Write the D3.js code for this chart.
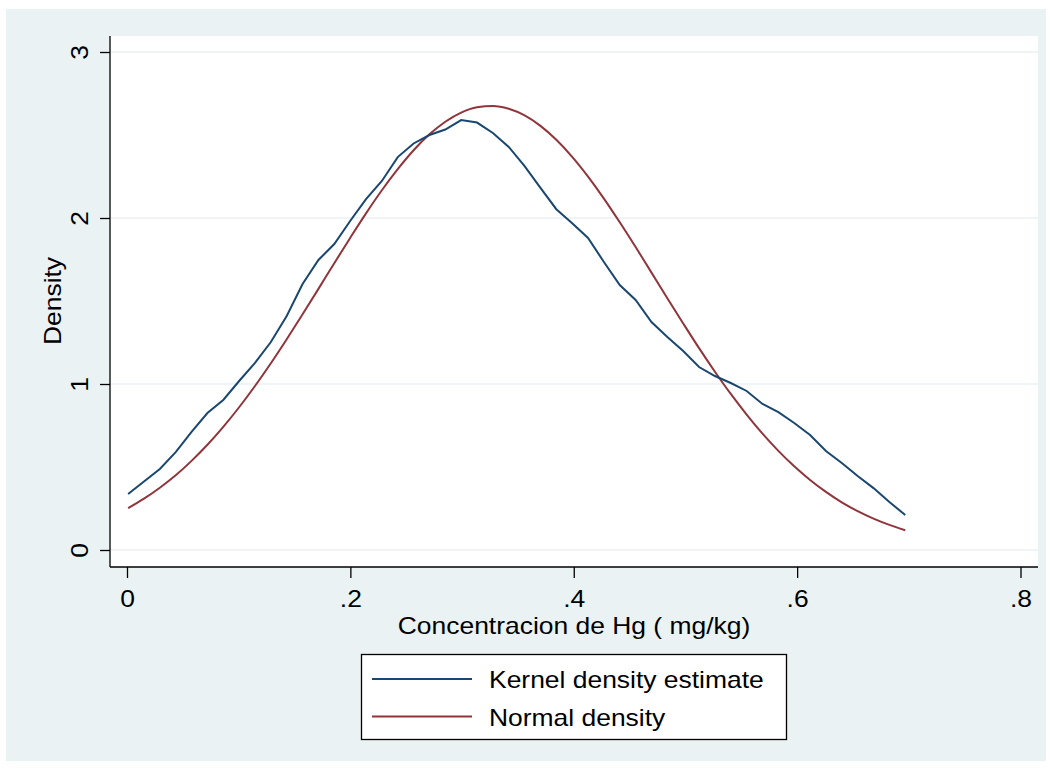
<!DOCTYPE html>
<html>
<head>
<meta charset="utf-8">
<script src="https://cdn.jsdelivr.net/npm/d3@7"></script>
<style>
    body { margin: 0; background: #fff; }
    text { font-family: "Liberation Sans", Arial, sans-serif; fill: #000; }
</style>
</head>
<body>
<div id="chart"></div>
<script>

// --------- DATA ---------

// evaluation grid (50 points, as kdensity uses)
let hgValues = [0.001, 0.0152, 0.0294, 0.0436, 0.0578, 0.072, 0.0862, 0.1004, 0.1146, 0.1288,
    0.143, 0.1572, 0.1714, 0.1856, 0.1998, 0.214, 0.2282, 0.2424, 0.2566, 0.2708,
    0.285, 0.2992, 0.3134, 0.3276, 0.3418, 0.356, 0.3702, 0.3844, 0.3986, 0.4128,
    0.427, 0.4412, 0.4554, 0.4696, 0.4838, 0.498, 0.5122, 0.5264, 0.5406, 0.5548,
    0.569, 0.5832, 0.5974, 0.6116, 0.6258, 0.64, 0.6542, 0.6684, 0.6826, 0.6968];

let kernelDensity = [0.337, 0.413, 0.488, 0.590, 0.711, 0.825, 0.904, 1.018, 1.127, 1.253,
    1.410, 1.602, 1.747, 1.843, 1.982, 2.114, 2.223, 2.367, 2.449, 2.500,
    2.533, 2.590, 2.575, 2.512, 2.428, 2.313, 2.181, 2.053, 1.969, 1.880,
    1.735, 1.596, 1.506, 1.373, 1.283, 1.199, 1.102, 1.048, 1.006, 0.958,
    0.880, 0.831, 0.765, 0.693, 0.596, 0.524, 0.446, 0.373, 0.289, 0.211];

let normalDensity = [0.252, 0.309, 0.375, 0.450, 0.537, 0.634, 0.742, 0.860, 0.988, 1.125,
    1.270, 1.420, 1.573, 1.728, 1.880, 2.028, 2.167, 2.294, 2.408, 2.504,
    2.580, 2.635, 2.667, 2.675, 2.658, 2.618, 2.555, 2.471, 2.368, 2.249,
    2.117, 1.974, 1.825, 1.671, 1.517, 1.365, 1.216, 1.074, 0.940, 0.816,
    0.701, 0.597, 0.504, 0.422, 0.350, 0.287, 0.234, 0.189, 0.151, 0.119];

let xTicks = [0, 0.2, 0.4, 0.6, 0.8];
let xTickLabels = ["0", ".2", ".4", ".6", ".8"];
let yTicks = [0, 1, 2, 3];
let yTickLabels = ["0", "1", "2", "3"];

let seriesNames = ["Kernel density estimate", "Normal density"];
let seriesColors = ["#1a476f", "#90353b"];

// --------- GRAPHING ---------

let W = 1052, H = 769;
let plot = {left: 110, top: 36, right: 1038, bottom: 567};
let FONT = 23, STRETCH = 1.15;   // the reference text is a bit wider than Arial

// place a text at (x,y), rotated, stretched horizontally along its baseline
function placeText(sel, x, y, rot) {
    sel.attr("x", 0).attr("y", 0).attr("dy", null)
        .attr("font-size", FONT)
        .attr("font-family", "Liberation Sans, Arial, sans-serif")
        .attr("fill", "#000")
        .attr("transform", "translate(" + x + "," + y + ") rotate(" + (rot || 0) + ") scale(" + STRETCH + ",1)");
    return sel;
}

let svg = d3.select("#chart")
    .append("svg")
    .attr("width", W)
    .attr("height", H);

// Stata style background
svg.append("rect")
    .attr("x", 6).attr("y", 9)
    .attr("width", 1040).attr("height", 752)
    .attr("fill", "#eaf2f3");

svg.append("rect")
    .attr("x", plot.left).attr("y", plot.top)
    .attr("width", plot.right - plot.left).attr("height", plot.bottom - plot.top)
    .attr("fill", "#fff");

let xScale = d3.scaleLinear()
    .domain([0, 0.8])
    .range([127, 1020.5]);

let yScale = d3.scaleLinear()
    .domain([0, 3])
    .range([550, 52]);

// Gridlines
svg.append("g")
    .selectAll("line")
    .data(yTicks)
    .join("line")
    .attr("x1", plot.left).attr("x2", plot.right)
    .attr("y1", d => yScale(d)).attr("y2", d => yScale(d))
    .attr("stroke", "#eaf2f3")
    .attr("stroke-width", 1.6);

// Axes
let xAxis = d3.axisBottom(xScale)
    .tickValues(xTicks)
    .tickFormat((d, i) => xTickLabels[i])
    .tickSizeInner(11)
    .tickSizeOuter(0);

let gx = svg.append("g")
    .attr("transform", "translate(0," + plot.bottom + ")")
    .call(xAxis);
gx.select(".domain").attr("d", "M" + plot.left + ",0H" + plot.right);

let yAxis = d3.axisLeft(yScale)
    .tickValues(yTicks)
    .tickFormat((d, i) => yTickLabels[i])
    .tickSizeInner(10)
    .tickSizeOuter(0);

let gy = svg.append("g")
    .attr("transform", "translate(" + plot.left + ",0)")
    .call(yAxis);
gy.select(".domain").attr("d", "M0," + plot.top + "V" + plot.bottom);

svg.selectAll(".domain, .tick line")
    .attr("stroke", "#000")
    .attr("stroke-width", 1.3);

gx.selectAll(".tick text")
    .attr("text-anchor", "middle")
    .each(function() { placeText(d3.select(this), 0, 40); });

// rotated y labels, baseline to the right
gy.selectAll(".tick text")
    .attr("text-anchor", "middle")
    .each(function() { placeText(d3.select(this), -22, 0, -90); });

// Axis titles
svg.append("text")
    .attr("text-anchor", "middle")
    .text("Concentracion de Hg ( mg/kg)")
    .call(placeText, 574, 634);

svg.append("text")
    .attr("text-anchor", "middle")
    .text("Density")
    .call(placeText, 61, 301, -90);

// Curves
let line = d3.line()
    .x(d => xScale(d[0]))
    .y(d => yScale(d[1]));

let series = [kernelDensity, normalDensity].map(vals => hgValues.map((x, i) => [x, vals[i]]));

svg.append("path")
    .attr("fill", "none")
    .attr("stroke", seriesColors[1])
    .attr("stroke-width", 2)
    .attr("d", line.curve(d3.curveMonotoneX)(series[1]));

svg.append("path")
    .attr("fill", "none")
    .attr("stroke", seriesColors[0])
    .attr("stroke-width", 2)
    .attr("d", line.curve(d3.curveLinear)(series[0]));

// Legend
let legend = svg.append("g");
legend.append("rect")
    .attr("x", 361.5).attr("y", 654.5)
    .attr("width", 425).attr("height", 85)
    .attr("fill", "#fff")
    .attr("stroke", "#000")
    .attr("stroke-width", 1.3);

let rows = legend.selectAll("g.row")
    .data(seriesNames)
    .join("g")
    .attr("class", "row")
    .attr("transform", (d, i) => "translate(0," + (679 + i * 37.5) + ")");

rows.append("line")
    .attr("x1", 372).attr("x2", 472)
    .attr("stroke", (d, i) => seriesColors[i])
    .attr("stroke-width", 2);

rows.append("text")
    .text(d => d)
    .each(function() { placeText(d3.select(this), 489, 9); });

</script>
</body>
</html>
